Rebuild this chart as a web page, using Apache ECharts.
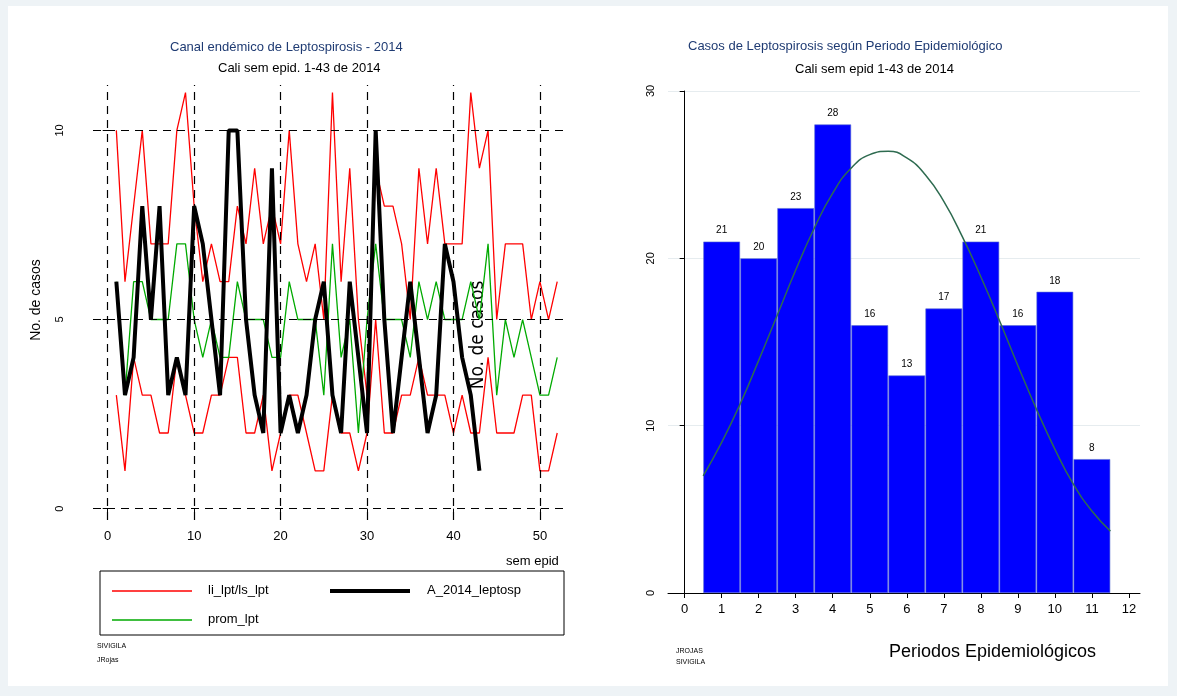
<!DOCTYPE html>
<html><head><meta charset="utf-8">
<script src="https://cdn.jsdelivr.net/npm/echarts@6/dist/echarts.min.js"></script>
<style>html,body{margin:0;background:#fff}#c{width:1177px;height:696px}</style>
</head><body><div id="c"></div>
<script>
// semanas epidemiologicas
const weeks = Array.from({length: 52}, (_, i) => i + 1);
const lsLpt = [10,6,8,10,7,7,7,10,11,8, 6,7,6,6,8,7,9,7,8,7, 10,7,6,7,5,11,6,9,5,3, 9,8,8,7,5,9,7,9,7,7, 7,11,9,10,5,7,7,7,5,6, 5,6];
const liLpt = [3,1,4,3,3,2,2,4,3,2, 2,3,3,4,4,2,2,3,1,2, 3,3,2,1,1,3,2,2,1,2, 5,2,2,3,3,4,3,3,3,2, 3,2,2,4,2,2,2,3,3,1, 1,2];
const promLpt = [6,3,6,6,5,5,5,7,7,5, 4,5,4,4,6,5,5,5,4,4, 6,5,5,5,3,7,4,5,2,5, 7,5,5,5,4,6,5,6,5,5, 5,6,5,7,3,5,4,5,4,3, 3,4];
const a2014 = [6,3,4,8,5,8,3,4,3,8, 7,5,3,10,10,5,3,2,9,2, 3,2,3,5,6,3,2,6,4,2, 10,5,2,4,6,4,2,3,7,6, 4,3,1];

// periodos
const periods = [1,2,3,4,5,6,7,8,9,10,11];
const casos = [21,20,23,28,16,13,17,21,16,18,8];
const curveX = [0.5,1,1.5,2,2.5,3,3.5,4,4.5,5,5.5,6,6.5,7,7.5,8,8.5,9,9.5,10,10.5,11,11.5];
const curveY = [7,9,11.3,13.9,16.6,19.3,21.8,23.9,25.4,26.2,26.4,26,25,23.4,21.3,18.9,16.3,13.6,11,8.6,6.5,4.9,3.7];

const pair = (xs, ys) => ys.map((v, i) => [xs[i], v]);
const dash = {color: '#000', type: [8, 6], width: 1.2};
const chart = echarts.init(document.getElementById('c'));
chart.setOption({
  animation: false,
  textStyle: {fontFamily: 'Liberation Sans, Arial, sans-serif'},
  graphic: [
    {type: 'rect', shape: {x: 0, y: 0, width: 1177, height: 696}, style: {fill: '#eef3f6'}, z: -10},
    {type: 'rect', shape: {x: 8, y: 6, width: 1160, height: 680}, style: {fill: '#fff'}, z: -9},
    {type: 'text', left: 170, top: 41, style: {text: 'Canal endémico de Leptospirosis - 2014', fill: '#1f3b73', font: '13px Liberation Sans'}},
    {type: 'text', left: 218, top: 62, style: {text: 'Cali sem epid. 1-43 de 2014', fill: '#000', font: '13px Liberation Sans'}},
    {type: 'text', left: 688, top: 40, style: {text: 'Casos de Leptospirosis según Periodo Epidemiológico', fill: '#1f3b73', font: '13px Liberation Sans'}},
    {type: 'text', left: 795, top: 63, style: {text: 'Cali sem epid 1-43 de 2014', fill: '#000', font: '13px Liberation Sans'}},
    {type: 'text', left: 506, top: 555, style: {text: 'sem epid', fill: '#000', font: '13px Liberation Sans'}},
    {type: 'text', x: 36, y: 300, rotation: Math.PI / 2, style: {text: 'No. de casos', fill: '#000', font: '14px Liberation Sans', align: 'center', verticalAlign: 'middle'}},
    {type: 'text', x: 478, y: 335, rotation: Math.PI / 2, style: {text: 'No. de casos', fill: '#000', font: '19px DejaVu Sans Condensed, Liberation Sans', align: 'center', verticalAlign: 'middle'}},
    {type: 'rect', shape: {x: 100, y: 571, width: 464, height: 64}, style: {fill: '#fff', stroke: '#000', lineWidth: 1}},
    {type: 'line', shape: {x1: 112, y1: 591, x2: 192, y2: 591}, style: {stroke: '#ff0000', lineWidth: 1.5}},
    {type: 'text', left: 208, top: 584, style: {text: 'li_lpt/ls_lpt', fill: '#000', font: '13px Liberation Sans'}},
    {type: 'line', shape: {x1: 330, y1: 591, x2: 410, y2: 591}, style: {stroke: '#000', lineWidth: 4}},
    {type: 'text', left: 427, top: 584, style: {text: 'A_2014_leptosp', fill: '#000', font: '13px Liberation Sans'}},
    {type: 'line', shape: {x1: 112, y1: 620, x2: 192, y2: 620}, style: {stroke: '#00aa00', lineWidth: 1.5}},
    {type: 'text', left: 208, top: 613, style: {text: 'prom_lpt', fill: '#000', font: '13px Liberation Sans'}},
    {type: 'text', left: 97, top: 643, style: {text: 'SIVIGILA', fill: '#000', font: '7px Liberation Sans'}},
    {type: 'text', left: 97, top: 657, style: {text: 'JRojas', fill: '#000', font: '7px Liberation Sans'}},
    {type: 'text', left: 676, top: 648, style: {text: 'JROJAS', fill: '#000', font: '7px Liberation Sans'}},
    {type: 'text', left: 676, top: 659, style: {text: 'SIVIGILA', fill: '#000', font: '7px Liberation Sans'}},
    {type: 'text', left: 889, top: 643, style: {text: 'Periodos Epidemiológicos', fill: '#000', font: '18px Liberation Sans'}}
  ],
  grid: [
    {left: 93, right: 1177 - 565, top: 85, bottom: 696 - 520},
    {left: 668, right: 1177 - 1140, top: 91, bottom: 696 - 593}
  ],
  xAxis: [
    {gridIndex: 0, type: 'value', min: -1.7, max: 52.9,
     axisLine: {show: false}, splitLine: {show: false},
     axisTick: {show: true, customValues: [0,10,20,30,40,50], length: 5, lineStyle: {color: '#000'}},
     axisLabel: {customValues: [0,10,20,30,40,50], color: '#000', fontSize: 13, margin: 10}},
    {gridIndex: 1, type: 'value', min: -0.45, max: 12.3,
     axisLine: {onZero: false, lineStyle: {color: '#000'}}, splitLine: {show: false},
     axisTick: {customValues: [0,1,2,3,4,5,6,7,8,9,10,11,12], length: 5, lineStyle: {color: '#000'}},
     axisLabel: {customValues: [0,1,2,3,4,5,6,7,8,9,10,11,12], color: '#000', fontSize: 13, margin: 10}}
  ],
  yAxis: [
    {gridIndex: 0, type: 'value', min: -0.3, max: 11.2,
     axisLine: {show: false}, splitLine: {show: false},
     axisTick: {show: true, customValues: [0,5,10], length: 5, lineStyle: {color: '#000'}},
     axisLabel: {customValues: [0,5,10], color: '#000', fontSize: 11, rotate: 90, margin: 28}},
    {gridIndex: 1, type: 'value', min: 0, max: 30, interval: 10,
     axisLine: {show: true, lineStyle: {color: '#000'}},
     splitLine: {show: true, lineStyle: {color: '#e6ecef'}},
     axisTick: {show: true, length: 5, lineStyle: {color: '#000'}},
     axisLabel: {color: '#000', fontSize: 11, rotate: 90, margin: 12}}
  ],
  series: [
    {type: 'line', xAxisIndex: 0, yAxisIndex: 0, data: [], silent: true,
     markLine: {symbol: 'none', silent: true, label: {show: false}, lineStyle: dash,
       data: [0,10,20,30,40,50].map(v => ({xAxis: v})).concat([0,5,10].map(v => ({yAxis: v})))}},
    {name: 'ls', type: 'line', xAxisIndex: 0, yAxisIndex: 0, data: pair(weeks, lsLpt), symbol: 'none', lineStyle: {color: '#ff0000', width: 1.3}},
    {name: 'li', type: 'line', xAxisIndex: 0, yAxisIndex: 0, data: pair(weeks, liLpt), symbol: 'none', lineStyle: {color: '#ff0000', width: 1.3}},
    {name: 'prom', type: 'line', xAxisIndex: 0, yAxisIndex: 0, data: pair(weeks, promLpt), symbol: 'none', lineStyle: {color: '#00aa00', width: 1.3}},
    {name: 'A2014', type: 'line', xAxisIndex: 0, yAxisIndex: 0, data: pair(weeks, a2014), symbol: 'none', lineStyle: {color: '#000', width: 4}},
    {type: 'bar', xAxisIndex: 1, yAxisIndex: 1, data: pair(periods, casos), barWidth: 36.7,
     itemStyle: {color: '#0000ff', borderColor: '#5a6fd0', borderWidth: 0.6},
     label: {show: true, position: 'top', color: '#000', fontSize: 10, distance: 6}},
    {type: 'line', xAxisIndex: 1, yAxisIndex: 1, data: pair(curveX, curveY), smooth: true, symbol: 'none',
     lineStyle: {color: '#2e6b50', width: 1.5}}
  ]
});
</script></body></html>
